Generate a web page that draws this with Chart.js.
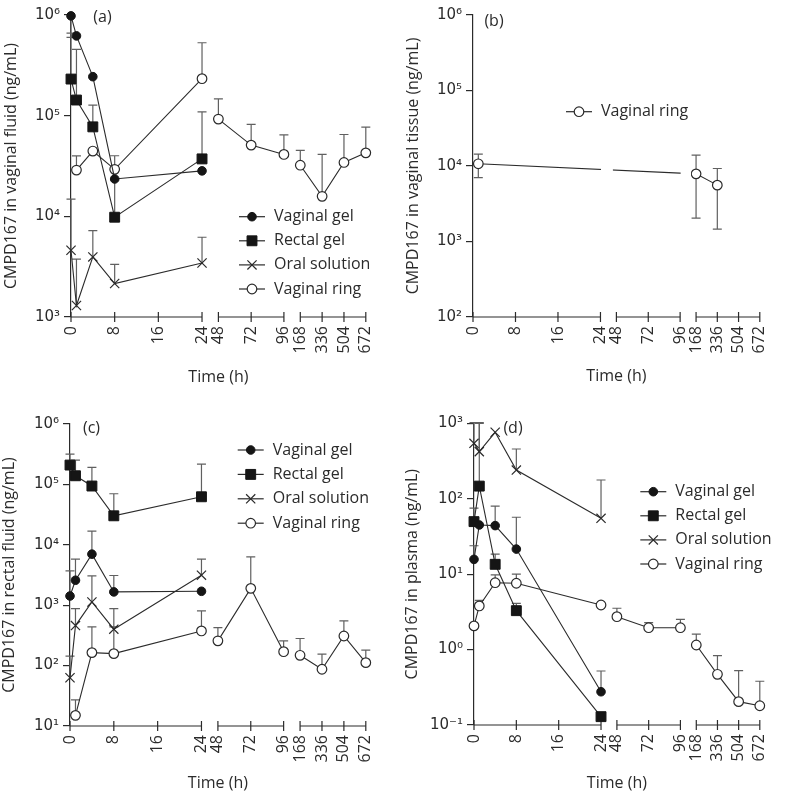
<!DOCTYPE html>
<html lang="en">
<head>
<meta charset="UTF-8">
<title>CMPD167 concentrations</title>
<script src="https://cdn.jsdelivr.net/npm/chart.js"></script>
<style>
  body { margin: 0; background: #fff; }
  canvas { position: absolute; }
</style>
</head>
<body>
<canvas id="chartA" width="394" height="397" style="left:0;top:0"></canvas>
<canvas id="chartB" width="386" height="397" style="left:402px;top:0"></canvas>
<canvas id="chartC" width="394" height="398" style="left:0;top:397px"></canvas>
<canvas id="chartD" width="386" height="398" style="left:402px;top:397px"></canvas>
<script>
// sampling times (h)
const timesShort = [0, 1, 4, 8, 24];
const timesRing = [1, 4, 8, 24, 48, 72, 96, 168, 336, 504, 672];
const timesRingPlasma = [0, 1, 4, 8, 24, 48, 72, 96, 168, 336, 504, 672];
const timesTissue = [1, 168, 336];

// x axis: broken into three pieces
const xTickHours = [0, 8, 16, 24, 48, 72, 96, 168, 336, 504, 672];
const xTickLabels = ['0', '8', '16', '24', '48', '72', '96', '168', '336', '504', '672'];
const axisSegments = [[0, 24], [48, 96], [168, 672]];

// y ticks (decades)
const yTicksA = [1e3, 1e4, 1e5, 1e6];
const yTicksB = [1e2, 1e3, 1e4, 1e5, 1e6];
const yTicksC = [1e1, 1e2, 1e3, 1e4, 1e5, 1e6];
const yTicksD = [1e-1, 1e0, 1e1, 1e2, 1e3];

// (a) vaginal fluid
const aGel = [9.8e5, 6.2e5, 2.44e5, 2.35e4, 2.83e4];
const aGelLow = [6.0e5, null, null, null, null];
const aRectal = [2.31e5, 1.43e5, 7.74e4, 9.8e3, 3.72e4];
const aRectalUp = [6.6e5, 4.56e5, 1.27e5, 2.3e4, 1.09e5];
const aOral = [4.6e3, 1.3e3, 3.95e3, 2.15e3, 3.44e3];
const aOralUp = [1.48e4, 3.75e3, 7.2e3, 3.34e3, 6.2e3];
const aRing = [2.88e4, 4.45e4, 2.93e4, 2.33e5, 9.25e4, 5.1e4, 4.12e4, 3.22e4, 1.58e4, 3.43e4, 4.27e4];
const aRingUp = [3.99e4, null, 4.0e4, 5.3e5, 1.47e5, 8.2e4, 6.45e4, 4.52e4, 4.12e4, 6.5e4, 7.7e4];

// (b) vaginal tissue
const bRing = [1.07e4, 7.87e3, 5.58e3];
const bRingUp = [1.44e4, 1.39e4, 9.27e3];
const bRingLow = [7.0e3, 2.04e3, 1.46e3];

// (c) rectal fluid
const cGel = [1.42e3, 2.59e3, 7.0e3, 1.66e3, 1.7e3];
const cGelUp = [3.7e3, 5.8e3, 1.69e4, 3.1e3, null];
const cRectal = [2.09e5, 1.39e5, 9.4e4, 3.02e4, 6.24e4];
const cRectalUp = [3.18e5, 2.53e5, 1.92e5, 7.0e4, 2.17e5];
const cOral = [63, 460, 1.13e3, 401, 3.14e3];
const cOralUp = [143, 880, 3.06e3, 880, 5.8e3];
const cRing = [15, 164, 158, 375, 257, 1.9e3, 170, 148, 87, 309, 112];
const cRingUp = [27, 437, 437, 803, 426, 6.3e3, 257, 281, 155, 550, 180];

// (d) plasma
const dGel = [15.7, 44.9, 44, 21.5, 0.276];
const dGelUp = [23.8, null, 80, 56.8, 0.52];
const dRectal = [49.7, 147, 13.5, 3.28, 0.129];
const dRectalUp = [75, 1.0e3, 18.4, 4.1, null];
const dOral = [543, 421, 760, 240, 55];
const dOralUp = [1.02e3, 1.02e3, null, 456, 177];
const dRing = [2.06, 3.79, 7.7, 7.57, 3.9, 2.73, 1.95, 1.95, 1.15, 0.47, 0.204, 0.18];
const dRingUp = [null, 4.5, 9.8, 10, null, 3.53, 2.27, 2.52, 1.6, 0.83, 0.525, 0.38];

Chart.defaults.font.family = "'Open Sans', 'DejaVu Sans', sans-serif";
Chart.defaults.font.size = 16;
Chart.defaults.color = '#2b2b2b';

// hours -> position on the broken axis
function hourToAxis(h) {
    if (h <= 24) return h;
    if (h <= 96) return 27 + (h - 48) / 4;
    return 42 + (h - 168) / 42;
}
function segmentOf(h) {
    return h <= 24 ? 0 : (h <= 96 ? 1 : 2);
}

const markerStyles = {
    gel:    { pointStyle: 'circle', pointRadius: 4.3, pointBackgroundColor: '#151515', pointBorderColor: '#151515', pointBorderWidth: 1 },
    rectal: { pointStyle: 'rect', pointRadius: 7, pointBackgroundColor: '#151515', pointBorderColor: '#151515', pointBorderWidth: 1 },
    oral:   { pointStyle: 'crossRot', pointRadius: 6.5, pointBackgroundColor: '#fff', pointBorderColor: '#2a2a2a', pointBorderWidth: 1.2 },
    ring:   { pointStyle: 'circle', pointRadius: 4.8, pointBackgroundColor: '#fff', pointBorderColor: '#2a2a2a', pointBorderWidth: 1.2 }
};

function buildData(times, values, up, low, bridge) {
    const pts = [];
    times.forEach((t, i) => {
        if (!bridge && i > 0 && segmentOf(t) !== segmentOf(times[i - 1])) {
            // break the line between axis pieces
            pts.push({ x: (hourToAxis(times[i - 1]) + hourToAxis(t)) / 2, y: null });
        }
        pts.push({
            x: hourToAxis(t),
            y: values[i],
            up: up ? up[i] : null,
            low: low ? low[i] : null
        });
    });
    return pts;
}

const supDigits = { '-': '\u207B', '0': '\u2070', '1': '\u00B9', '2': '\u00B2', '3': '\u00B3', '4': '\u2074', '5': '\u2075', '6': '\u2076' };
function decadeLabel(v) {
    const e = String(Math.round(Math.log10(v)));
    return '10' + e.split('').map(c => supDigits[c]).join('');
}

// draws the broken x axis, error bars, panel letter and legend
const panelDeco = {
    id: 'panelDeco',
    beforeDatasetsDraw(chart, args, opts) {
        const ctx = chart.ctx;
        const xs = chart.scales.x, ys = chart.scales.y;
        const axisY = chart.chartArea.bottom;
        ctx.save();
        ctx.strokeStyle = '#2b2b2b';
        ctx.lineWidth = 1.2;
        axisSegments.forEach(seg => {
            ctx.beginPath();
            ctx.moveTo(xs.getPixelForValue(hourToAxis(seg[0])), axisY);
            ctx.lineTo(xs.getPixelForValue(hourToAxis(seg[1])), axisY);
            ctx.stroke();
        });
        xTickHours.forEach(h => {
            const px = xs.getPixelForValue(hourToAxis(h));
            ctx.beginPath();
            ctx.moveTo(px, axisY - 5);
            ctx.lineTo(px, axisY + 5);
            ctx.stroke();
        });

        ctx.strokeStyle = '#606060';
        ctx.lineWidth = 1.2;
        chart.data.datasets.forEach(ds => {
            ds.data.forEach(p => {
                if (p.y == null) return;
                const px = xs.getPixelForValue(p.x);
                const py = ys.getPixelForValue(p.y);
                [p.up, p.low].forEach(e => {
                    if (e == null) return;
                    const ey = ys.getPixelForValue(e);
                    ctx.beginPath();
                    ctx.moveTo(px, py);
                    ctx.lineTo(px, ey);
                    ctx.moveTo(px - 4.5, ey);
                    ctx.lineTo(px + 4.5, ey);
                    ctx.stroke();
                });
            });
        });
        ctx.restore();
    },
    beforeDatasetDraw(chart, args, opts) {
        if (!opts.bridge) return;
        const ctx = chart.ctx;
        const xs = chart.scales.x;
        const xp = h => xs.getPixelForValue(hourToAxis(h));
        ctx.save();
        ctx.beginPath();
        ctx.rect(0, 0, xp(24) + 0.5, chart.height);
        ctx.rect(xp(48) - 3.5, 0, xp(96) - xp(48) + 4, chart.height);
        ctx.rect(xp(168) - 5, 0, chart.width, chart.height);
        ctx.clip();
    },
    afterDatasetDraw(chart, args, opts) {
        if (!opts.bridge) return;
        chart.ctx.restore();
    },
    afterDraw(chart, args, opts) {
        const ctx = chart.ctx;
        ctx.save();
        ctx.fillStyle = '#2b2b2b';
        ctx.font = "16px 'Open Sans', 'DejaVu Sans', sans-serif";
        ctx.textAlign = 'center';
        ctx.textBaseline = 'middle';
        ctx.fillText(opts.tag, opts.tagX, opts.tagY);

        chart.data.datasets.forEach((ds, i) => {
            const y = opts.legendY + i * opts.legendGap;
            const mx = opts.legendX;
            ctx.strokeStyle = '#2b2b2b';
            ctx.lineWidth = 1.2;
            ctx.beginPath();
            ctx.moveTo(mx - 13, y);
            ctx.lineTo(mx + 13, y);
            ctx.stroke();
            ctx.fillStyle = ds.pointBackgroundColor;
            ctx.strokeStyle = ds.pointBorderColor;
            ctx.lineWidth = ds.pointBorderWidth;
            Chart.helpers.drawPoint(ctx, {
                pointStyle: ds.pointStyle,
                radius: ds.pointRadius,
                rotation: 0,
                borderWidth: ds.pointBorderWidth
            }, mx, y);
            ctx.fillStyle = '#2b2b2b';
            ctx.textAlign = 'left';
            ctx.fillText(ds.label, opts.legendX + 22, y);
        });
        ctx.restore();
    }
};

function makeDataset(label, style, times, values, up, low, bridge) {
    return Object.assign({
        label: label,
        data: buildData(times, values, up, low, bridge),
        borderColor: '#2b2b2b',
        borderWidth: 1.1,
        tension: 0,
        spanGaps: false,
        clip: false,
        pointHoverRadius: markerStyles[style].pointRadius
    }, markerStyles[style]);
}

function makeChart(id, cfg) {
    new Chart(document.getElementById(id), {
        type: 'line',
        data: { datasets: cfg.datasets },
        plugins: [panelDeco],
        options: {
            responsive: false,
            animation: false,
            devicePixelRatio: 1,
            events: [],
            layout: { padding: { left: 0, top: cfg.padTop, right: cfg.padRight, bottom: 0 } },
            plugins: {
                legend: { display: false },
                tooltip: { enabled: false },
                panelDeco: cfg.deco
            },
            scales: {
                x: {
                    type: 'linear',
                    min: 0,
                    max: 54,
                    grid: { display: false, drawTicks: false },
                    border: { display: false },
                    afterBuildTicks: scale => {
                        scale.ticks = xTickHours.map(h => ({ value: hourToAxis(h) }));
                    },
                    afterFit: scale => { scale.height = cfg.xAxisH; },
                    ticks: {
                        autoSkip: false,
                        minRotation: 90,
                        maxRotation: 90,
                        padding: 9,
                        font: { size: 16 },
                        callback: (v, i) => xTickLabels[i]
                    },
                    title: { display: true, text: 'Time (h)', font: { size: 16 }, padding: { top: 0, bottom: cfg.xTitlePad } }
                },
                y: {
                    type: 'logarithmic',
                    min: cfg.yTicks[0],
                    max: cfg.yTicks[cfg.yTicks.length - 1],
                    grid: { display: true, drawOnChartArea: false, tickLength: 7, color: '#2b2b2b', lineWidth: 1.2 },
                    border: { display: true, color: '#2b2b2b', width: 1.2 },
                    afterBuildTicks: scale => {
                        scale.ticks = cfg.yTicks.map(v => ({ value: v }));
                    },
                    afterFit: scale => { scale.width = cfg.yAxisW; },
                    ticks: {
                        padding: 4,
                        font: { family: "'DejaVu Sans', sans-serif", size: 15 },
                        callback: v => decadeLabel(v)
                    },
                    title: { display: true, text: cfg.yTitle, font: { size: 16 }, padding: { top: cfg.yTitlePad, bottom: 0 } }
                }
            }
        }
    });
}

makeChart('chartA', {
    yTicks: yTicksA, yTitle: 'CMPD167 in vaginal fluid (ng/mL)',
    padTop: 15, padRight: 19, yAxisW: 71, xAxisH: 80, xTitlePad: 10, yTitlePad: 1.4,
    deco: { tag: '(a)', tagX: 102.5, tagY: 17, legendX: 252, legendY: 216.7, legendGap: 24.1 },
    datasets: [
        makeDataset('Vaginal gel', 'gel', timesShort, aGel, null, aGelLow),
        makeDataset('Rectal gel', 'rectal', timesShort, aRectal, aRectalUp, null),
        makeDataset('Oral solution', 'oral', timesShort, aOral, aOralUp, null),
        makeDataset('Vaginal ring', 'ring', timesRing, aRing, aRingUp, null)
    ]
});

makeChart('chartB', {
    yTicks: yTicksB, yTitle: 'CMPD167 in vaginal tissue (ng/mL)',
    padTop: 15, padRight: 10, yAxisW: 71, xAxisH: 80, xTitlePad: 11, yTitlePad: 1.4,
    deco: { tag: '(b)', tagX: 92, tagY: 21.5, legendX: 177, legendY: 111.7, legendGap: 24, bridge: true },
    datasets: [
        makeDataset('Vaginal ring', 'ring', timesTissue, bRing, bRingUp, bRingLow, true)
    ]
});

makeChart('chartC', {
    yTicks: yTicksC, yTitle: 'CMPD167 in rectal fluid (ng/mL)',
    padTop: 27, padRight: 22, yAxisW: 70, xAxisH: 69, xTitlePad: 2.4, yTitlePad: 0,
    deco: { tag: '(c)', tagX: 91.5, tagY: 31.5, legendX: 250.7, legendY: 53, legendGap: 24.4 },
    datasets: [
        makeDataset('Vaginal gel', 'gel', timesShort, cGel, cGelUp, null),
        makeDataset('Rectal gel', 'rectal', timesShort, cRectal, cRectalUp, null),
        makeDataset('Oral solution', 'oral', timesShort, cOral, cOralUp, null),
        makeDataset('Vaginal ring', 'ring', timesRing, cRing, cRingUp, null)
    ]
});

makeChart('chartD', {
    yTicks: yTicksD, yTitle: 'CMPD167 in plasma (ng/mL)',
    padTop: 26.3, padRight: 12.3, yAxisW: 72, xAxisH: 70, xTitlePad: 2.4, yTitlePad: 0.4,
    deco: { tag: '(d)', tagX: 111, tagY: 31, legendX: 251.3, legendY: 94.7, legendGap: 24.1 },
    datasets: [
        makeDataset('Vaginal gel', 'gel', timesShort, dGel, dGelUp, null),
        makeDataset('Rectal gel', 'rectal', timesShort, dRectal, dRectalUp, null),
        makeDataset('Oral solution', 'oral', timesShort, dOral, dOralUp, null),
        makeDataset('Vaginal ring', 'ring', timesRingPlasma, dRing, dRingUp, null)
    ]
});
</script>
</body>
</html>
